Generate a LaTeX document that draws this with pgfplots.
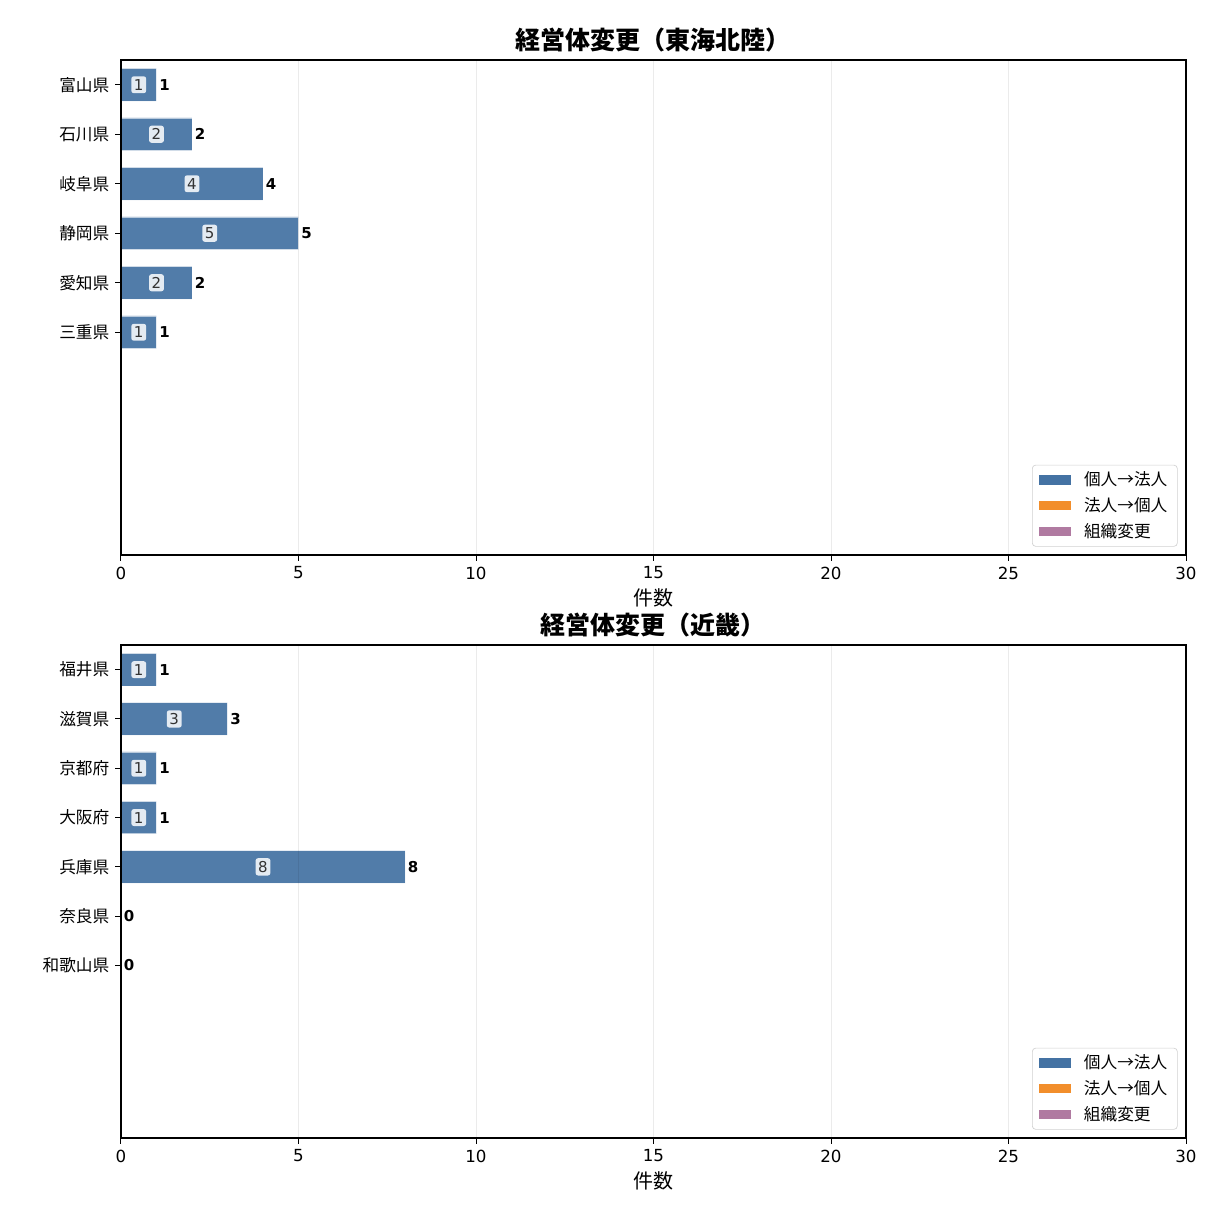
\documentclass[border=0pt]{standalone}
\usepackage{fontspec}
\setmainfont{DejaVu Sans}
\newfontfamily\jp{Noto Sans CJK JP}
\usepackage{pgfplots}
\usepackage{pgfplotstable}
\pgfplotsset{compat=1.18}

\definecolor{cblue}{HTML}{4472A3}
\definecolor{corange}{HTML}{F28E2B}
\definecolor{cpurple}{HTML}{B07AA1}
\definecolor{boxfill}{HTML}{E4EBF2}

% y = row from top, v = 個人→法人, o = 法人→個人, p = 組織変更
\pgfplotstableread{
y v o p
0 1 0 0
1 2 0 0
2 4 0 0
3 5 0 0
4 2 0 0
5 1 0 0
}\tokai
\pgfplotstableread{
y v o p
0 1 0 0
1 3 0 0
2 1 0 0
3 1 0 0
4 8 0 0
5 0 0 0
6 0 0 0
}\kinki

\pgfplotsset{
  henko/.style={
    axis on top,
    scale only axis,
    width=639pt,
    xbar, bar width=0.66, bar shift=0pt,
    xmin=0, xmax=30, ymin=-0.5, ymax=9.5, y dir=reverse,
    xtick={0,5,...,30},
    xmajorgrids, grid style={black, draw opacity=0.08, line width=0.6pt},
    tick align=outside, xtick pos=bottom, ytick pos=left,
    major tick length=3.5pt,
    every tick/.style={black, line width=0.6pt},
    axis line style={line width=0.8pt},
    /pgf/number format/assume math mode=true,
    tick label style={font=\fontsize{10}{12}\selectfont},
    yticklabel style={font=\jp\fontsize{10}{12}\selectfont},
    xlabel={\jp 件数},
    xlabel style={font=\fontsize{12}{14}\selectfont, yshift=1.2pt},
    title style={font=\jp\bfseries\fontsize{15}{17}\selectfont, yshift=-5pt},
    legend image code/.code={\fill[##1, draw=none, fill opacity=1, sharp corners] (0pt,-2.8pt) rectangle (19pt,2.8pt);
      \path[draw=none, fill=none] (0pt,0pt) rectangle (25pt,0.1pt);},
    legend style={at={(1,0)}, anchor=south east, xshift=-5pt, yshift=5pt,
      draw=black!18, rounded corners=2pt, fill=white,
      font=\jp\fontsize{10}{12}\selectfont, row sep=1.5pt,
      inner xsep=4pt, inner ysep=2pt, cells={anchor=west}},
    legend cell align=left,
  },
  outer/.style={fill=cblue, fill opacity=0.93, draw=white, draw opacity=0.6, line width=0.4pt,
    nodes near coords, point meta=explicit,
    every node near coord/.style={anchor=west, inner sep=1.5pt, fill opacity=1, text opacity=1,
      font=\bfseries\fontsize{9}{10}\selectfont, black}},
  inner/.style={sharp plot, draw=none, mark=none, forget plot,
    restrict x to domain=0.01:100,
    nodes near coords, point meta=explicit, nodes near coords align=center,
    every node near coord/.style={anchor=center, fill=boxfill, rounded corners=1.5pt,
      inner xsep=1.6pt, inner ysep=1.8pt, text=black!80,
      font=\fontsize{9}{10}\selectfont}},
}

\begin{document}
\begin{tikzpicture}
\path[use as bounding box] (0,0) rectangle (726.6pt,726.6pt);

\begin{axis}[henko, at={(72.6pt,393.6pt)}, anchor=south west, height=297pt,
  title={経営体変更（東海北陸）},
  ytick={0,...,5},
  yticklabels={富山県,石川県,岐阜県,静岡県,愛知県,三重県}]
\addplot[outer] table[x=v, y=y, meta=v] {\tokai};
\addplot[fill=corange, draw=none] table[x=o, y=y] {\tokai};
\addplot[fill=cpurple, draw=none] table[x=p, y=y] {\tokai};
\addplot[inner] table[x expr=\thisrow{v}/2, y=y, meta=v] {\tokai};
\legend{個人→法人,法人→個人,組織変更}
\end{axis}

\begin{axis}[henko, at={(72.6pt,43.8pt)}, anchor=south west, height=295.8pt,
  title={経営体変更（近畿）},
  ytick={0,...,6},
  yticklabels={福井県,滋賀県,京都府,大阪府,兵庫県,奈良県,和歌山県}]
\addplot[outer] table[x=v, y=y, meta=v] {\kinki};
\addplot[fill=corange, draw=none] table[x=o, y=y] {\kinki};
\addplot[fill=cpurple, draw=none] table[x=p, y=y] {\kinki};
\addplot[inner] table[x expr=\thisrow{v}/2, y=y, meta=v] {\kinki};
\legend{個人→法人,法人→個人,組織変更}
\end{axis}
\end{tikzpicture}
\end{document}
